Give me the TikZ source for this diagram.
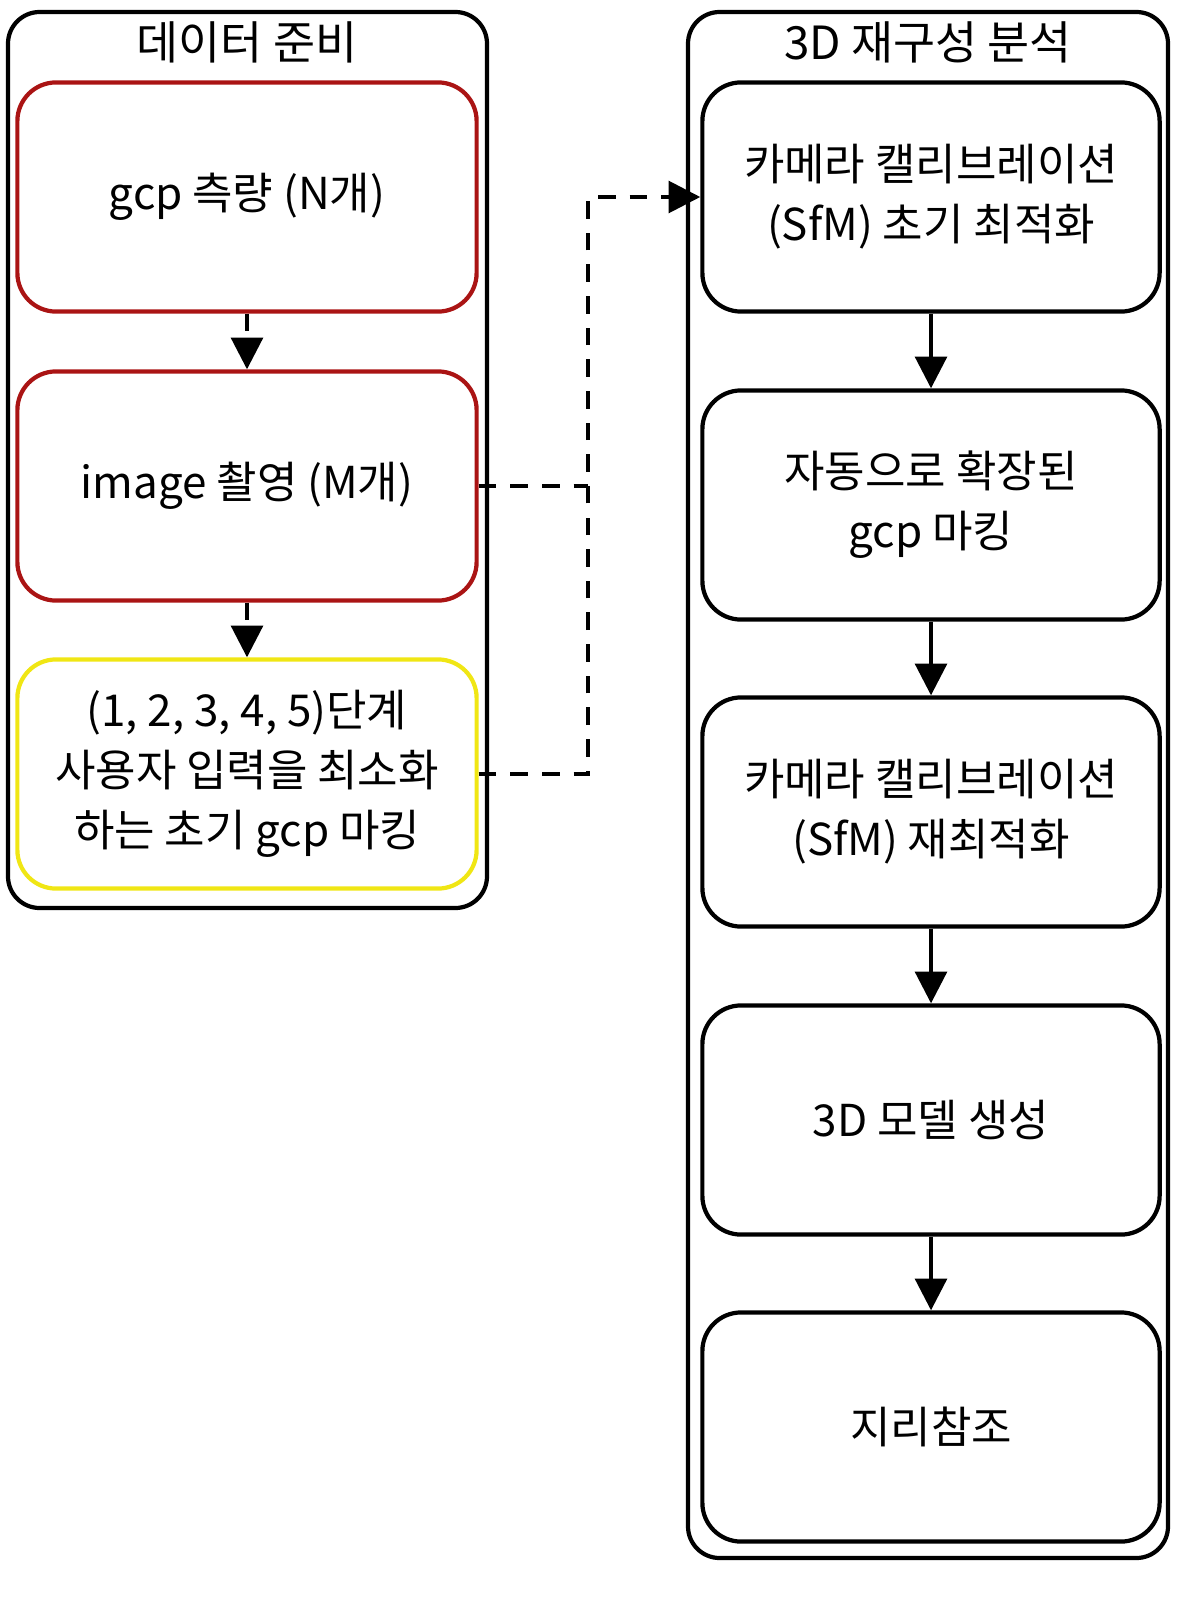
\documentclass[tikz,border=0pt]{standalone}
\usepackage{fontspec}
\setmainfont{Noto Sans CJK KR}
\usetikzlibrary{arrows.meta}
\begin{document}
\begin{tikzpicture}[x=0.01cm,y=-0.01cm,
  cont/.style={draw,line width=1.2pt,rounded corners=9pt},
  arr/.style={line width=1.1pt,-{Triangle[length=9pt,width=9pt]}},
  dsh/.style={arr,dashed,dash pattern=on 5pt off 4pt}]
\useasboundingbox (0,0) rectangle (1200,1600);
\draw[cont] (8,12) rectangle (487,908);
\node[font=\fontsize{13}{16}\selectfont] (t1) at (247,42) {데이터 준비};
\draw[cont] (688,12) rectangle (1168,1558);
\node[font=\fontsize{13}{16}\selectfont] (t2) at (928,42) {3D 재구성 분석};
\tikzset{lb/.style={draw,line width=1.2pt,rounded corners=11pt,minimum width=4.59cm,minimum height=2.29cm,align=center,font=\fontsize{12.5}{17}\selectfont},
rb/.style={lb,minimum width=4.57cm}}
\node[lb,draw={rgb,255:red,170;green,20;blue,20}] (a1) at (247,197) {gcp 측량 (N개)};
\node[lb,draw={rgb,255:red,170;green,20;blue,20}] (a2) at (247,486) {image 촬영 (M개)};
\node[lb,draw={rgb,255:red,240;green,230;blue,20}] (a3) at (247,774) {(1, 2, 3, 4, 5)단계\\사용자 입력을 최소화\\하는 초기 gcp 마킹};
\node[rb] (b1) at (931,197) {카메라 캘리브레이션\\(SfM) 초기 최적화};
\node[rb] (b2) at (931,505) {자동으로 확장된\\gcp 마킹};
\node[rb] (b3) at (931,812) {카메라 캘리브레이션\\(SfM) 재최적화};
\node[rb] (b4) at (931,1120) {3D 모델 생성};
\node[rb] (b5) at (931,1427) {지리참조};
\draw[dsh] (a1) -- (a2);
\draw[dsh] (a2) -- (a3);
\coordinate (j) at (588,197);
\draw[line width=1.1pt,dashed,dash pattern=on 5pt off 4pt] (a2.east) -- (588,486);
\draw[dsh] (a3.east) -- (588,774) -- (j) -- (b1.west);
\draw[arr] (b1) -- (b2);
\draw[arr] (b2) -- (b3);
\draw[arr] (b3) -- (b4);
\draw[arr] (b4) -- (b5);
\end{tikzpicture}
\end{document}
